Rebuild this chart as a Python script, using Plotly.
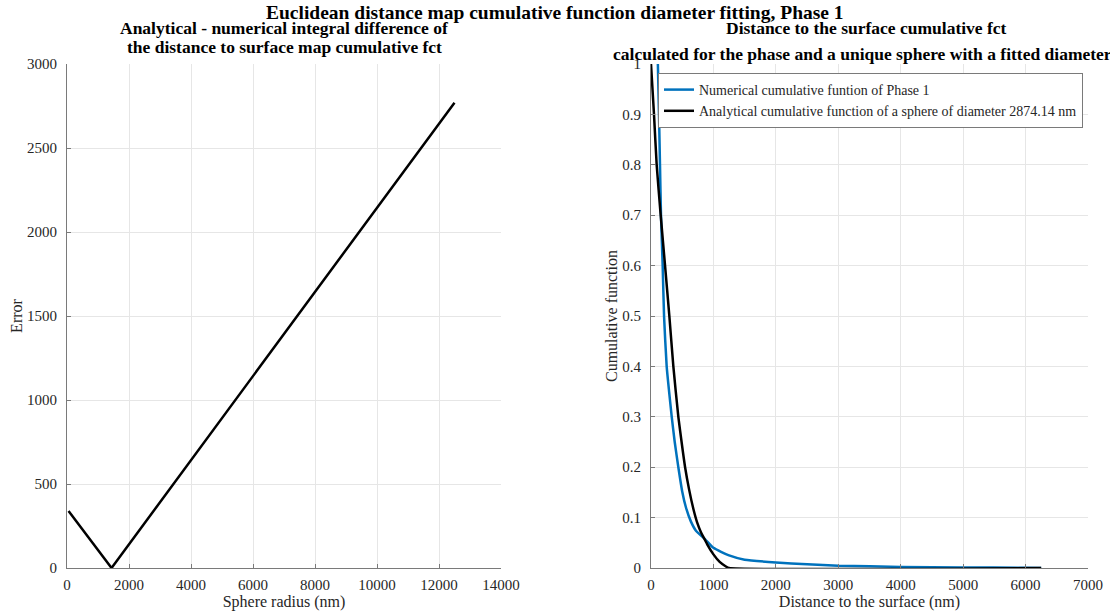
import plotly.graph_objects as go

# Left panel: integral error vs sphere radius
radius_nm = [50, 1437.07, 12500]
error_val = [340, 0, 2770]

# Right panel: numerical cumulative function of Phase 1
num_dist = [110, 128, 144, 160, 187, 209, 251, 290, 332, 380, 438, 500, 560, 640, 720, 867,
            1000, 1250, 1500, 2000, 2500, 3000, 4000, 5000, 6000, 6250]
num_cum = [1.0, 0.9, 0.8, 0.7, 0.6, 0.5, 0.4, 0.35, 0.3, 0.25, 0.2, 0.152, 0.12, 0.092, 0.074,
           0.057, 0.040, 0.025, 0.0165, 0.011, 0.0075, 0.0046, 0.0022, 0.0011, 0.0005, 0.0002]

# Analytical cumulative function of a sphere (diameter 2874.14 nm)
ana_dist = [0, 48, 91, 155, 225, 294, 358, 438, 490, 546, 610, 679, 740, 800, 867, 900, 1000,
            1100, 1200, 1250, 6250]
ana_cum = [1.0, 0.9, 0.8, 0.7, 0.6, 0.5, 0.4, 0.3, 0.25, 0.2, 0.156, 0.117, 0.09, 0.071, 0.055,
           0.047, 0.027, 0.012, 0.003, 0.0, 0.0]

FONT = "Liberation Serif"
W, H = 1110, 614

def px_x(p):
    return p / W

def px_y(p):
    return 1 - p / H

fig = go.Figure()

fig.add_trace(go.Scatter(x=radius_nm, y=error_val, mode="lines",
                         line=dict(color="black", width=2.5),
                         showlegend=False, xaxis="x", yaxis="y"))

fig.add_trace(go.Scatter(x=num_dist, y=num_cum, mode="lines",
                         line=dict(color="#0072BD", width=2.5, shape="spline", smoothing=0.5),
                         name="Numerical cumulative funtion of Phase 1",
                         xaxis="x2", yaxis="y2"))
fig.add_trace(go.Scatter(x=ana_dist, y=ana_cum, mode="lines",
                         line=dict(color="black", width=2.5, shape="spline", smoothing=0.5),
                         name="Analytical cumulative function of a sphere of diameter 2874.14 nm",
                         xaxis="x2", yaxis="y2"))

axis_common = dict(showgrid=True, gridcolor="#e6e6e6", gridwidth=1, zeroline=False,
                   showline=True, linecolor="#7a7a7a", linewidth=1, mirror=False,
                   ticks="inside", ticklen=4, tickcolor="#7a7a7a", automargin=False,
                   tickfont=dict(family=FONT, size=15, color="#262626"))
x_common = dict(tickformat="d", ticklabelstandoff=3, **axis_common)
y_common = dict(ticklabelstandoff=6, **axis_common)
title_font = dict(family=FONT, size=16, color="#262626")

ydom = [px_y(568), px_y(64)]

fig.update_layout(
    width=W, height=H,
    margin=dict(l=0, r=0, t=0, b=0),
    paper_bgcolor="white", plot_bgcolor="white",
    font=dict(family=FONT, color="#262626"),
    xaxis=dict(domain=[px_x(67), px_x(501)], range=[0, 14000], dtick=2000,
               title=dict(text="Sphere radius (nm)", font=title_font, standoff=0),
               anchor="y", **x_common),
    yaxis=dict(domain=ydom, range=[0, 3000], dtick=500,
               title=dict(text="Error", font=title_font, standoff=0),
               anchor="x", **y_common),
    xaxis2=dict(domain=[px_x(651), px_x(1088)], range=[0, 7000], dtick=1000,
                title=dict(text="Distance to the surface (nm)", font=title_font, standoff=0),
                anchor="y2", **x_common),
    yaxis2=dict(domain=ydom, range=[0, 1], dtick=0.1,
                title=dict(text="Cumulative function", font=title_font, standoff=0),
                anchor="x2", **y_common),
    legend=dict(x=px_x(658), y=px_y(73), xanchor="left", yanchor="top",
                bgcolor="white", bordercolor="#7a7a7a", borderwidth=1,
                font=dict(family=FONT, size=14, color="#262626"),
                tracegroupgap=0),
)

titles = [
    ("<b>Euclidean distance map cumulative function diameter fitting, Phase 1</b>", 555, 12, 19.5),
    ("<b>Analytical - numerical integral difference of</b>", 284, 28, 17.5),
    ("<b>the distance to surface map cumulative fct</b>", 284, 47, 17.5),
    ("<b>Distance to the surface cumulative fct</b>", 866, 28, 17.5),
    ("<b>calculated for the phase and a unique sphere with a fitted diameter</b>", 862, 54, 17.5),
]
for text, cx, cy, size in titles:
    fig.add_annotation(text=text, x=px_x(cx), y=px_y(cy), xref="paper", yref="paper",
                       xanchor="center", yanchor="middle", showarrow=False,
                       font=dict(family=FONT, size=size, color="black"))

fig.write_html("out.html")
